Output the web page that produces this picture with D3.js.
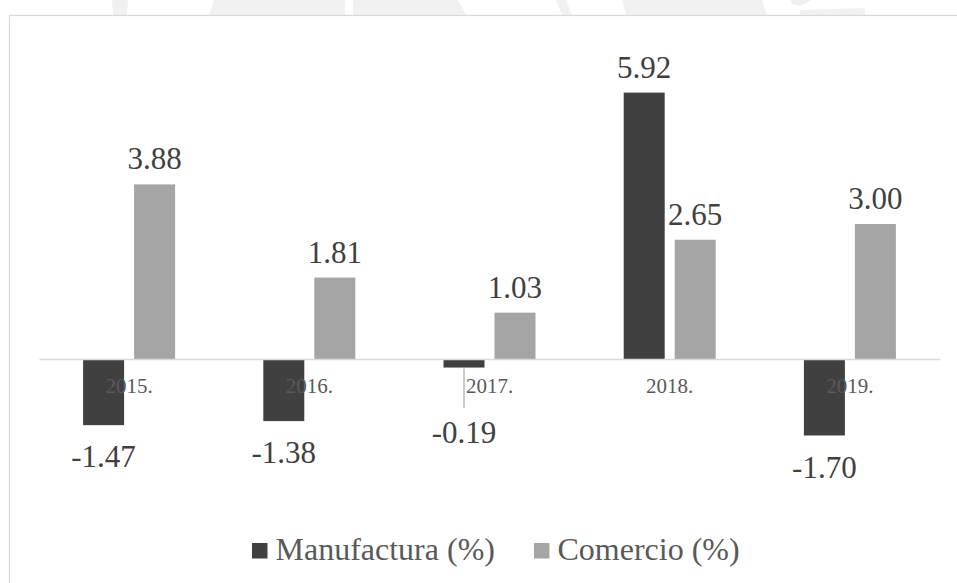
<!DOCTYPE html>
<html>
<head>
<meta charset="utf-8">
<script src="https://cdn.jsdelivr.net/npm/d3@7"></script>
<style>
  html, body { margin: 0; padding: 0; background: #ffffff; }
  svg { display: block; }
  .serif { font-family: "Liberation Serif", "DejaVu Serif", "Noto Serif", serif; }
</style>
</head>
<body>
<svg id="chart" width="957" height="583"></svg>
<script>
// Annual growth rates by sector
const categories = ["2015.", "2016.", "2017.", "2018.", "2019."];
const seriesNames = ["Manufactura (%)", "Comercio (%)"];
const manufactura = [-1.47, -1.38, -0.19, 5.92, -1.70];
const comercio = [3.88, 1.81, 1.03, 2.65, 3.00];
const seriesColors = ["#404040", "#a5a5a5"];

const rows = categories.map((c, i) => ({
  category: c,
  values: [
    { series: seriesNames[0], value: manufactura[i], color: seriesColors[0] },
    { series: seriesNames[1], value: comercio[i], color: seriesColors[1] }
  ]
}));

const svg = d3.select("#chart");

// faint emblem shapes behind the chart area
const emblem = svg.append("g").attr("fill", "#f1f1f1");
[
  [[112, 0], [128, 0], [127, 15], [113, 15]],
  [[214, 0], [345, 0], [345, 15], [209, 15]],
  [[353, 0], [458, 0], [466, 15], [353, 15]],
  [[556, 0], [566, 0], [572, 15], [562, 15]],
  [[622, 0], [762, 0], [767, 15], [626, 15]],
  [[790, 0], [812, 0], [800, 6], [792, 4]],
  [[800, 10], [865, 8], [865, 15], [800, 15]]
].forEach(p => emblem.append("polygon").attr("points", p.map(q => q.join(",")).join(" ")));

// chart area
svg.append("rect")
  .attr("x", 9.5).attr("y", 15.5)
  .attr("width", 1000).attr("height", 1000)
  .attr("fill", "#ffffff")
  .attr("stroke", "#d9d9d9")
  .attr("stroke-width", 1.2);

// scales
const plot = { left: 39, right: 940, top: 44, bottom: 449 };
const x0 = d3.scaleBand().domain(categories).range([plot.left, plot.right]).padding(0);
const half = 46;
const x1 = d3.scaleBand().domain(seriesNames)
  .range([x0.bandwidth() / 2 - half, x0.bandwidth() / 2 + half])
  .paddingInner(0.196).paddingOuter(0);
const y = d3.scaleLinear().domain([-2, 7]).range([plot.bottom, plot.top]);

// bars
const groups = svg.append("g").selectAll("g")
  .data(rows).join("g")
  .attr("transform", d => `translate(${x0(d.category)},0)`);

groups.selectAll("rect")
  .data(d => d.values).join("rect")
  .attr("x", d => x1(d.series))
  .attr("width", x1.bandwidth())
  .attr("y", d => y(Math.max(0, d.value)))
  .attr("height", d => Math.abs(y(d.value) - y(0)))
  .attr("fill", d => d.color);

// category axis on the zero line
const axis = svg.append("g")
  .attr("transform", `translate(0,${y(0)})`)
  .call(d3.axisBottom(x0).tickSize(0));
axis.attr("font-family", null).attr("font-size", null);
axis.select(".domain").attr("stroke", "#d9d9d9").attr("stroke-width", 1.5);
axis.selectAll(".tick text")
  .attr("class", "serif")
  .attr("y", 34).attr("dy", 0)
  .attr("fill", "#595959")
  .style("font-size", "21px");

// data labels
const minNegBaseline = y(0) + 84;
groups.each(function () {
  const g = d3.select(this);
  g.selectAll("text.val")
    .data(d => d.values).join("text")
    .attr("class", "val serif")
    .attr("text-anchor", "middle")
    .attr("x", d => x1(d.series) + x1.bandwidth() / 2)
    .attr("y", d => {
      if (d.value >= 0) return y(d.value) - 15;
      return Math.max(y(d.value) + 42, minNegBaseline);
    })
    .attr("fill", "#404040")
    .style("font-size", "31px")
    .text(d => d.value.toFixed(2));

  // leader line for labels pushed away from their bar
  g.selectAll("line.leader")
    .data(d => d.values.filter(v => v.value < 0 && y(v.value) + 42 < minNegBaseline))
    .join("line")
    .attr("class", "leader")
    .attr("x1", d => x1(d.series) + x1.bandwidth() / 2)
    .attr("x2", d => x1(d.series) + x1.bandwidth() / 2)
    .attr("y1", d => y(d.value) + 1)
    .attr("y2", minNegBaseline - 35)
    .attr("stroke", "#a6a6a6")
    .attr("stroke-width", 1.2);
});

// legend
const legend = svg.append("g");
let lx = 252;
seriesNames.forEach((name, i) => {
  legend.append("rect")
    .attr("x", lx).attr("y", 543)
    .attr("width", 15.5).attr("height", 15.5)
    .attr("fill", seriesColors[i]);
  const t = legend.append("text")
    .attr("class", "serif")
    .attr("x", lx + 23.5).attr("y", 560)
    .attr("fill", "#595959")
    .style("font-size", "32px")
    .text(name);
  lx += 23.5 + t.node().getComputedTextLength() + 39;
});
</script>
</body>
</html>
